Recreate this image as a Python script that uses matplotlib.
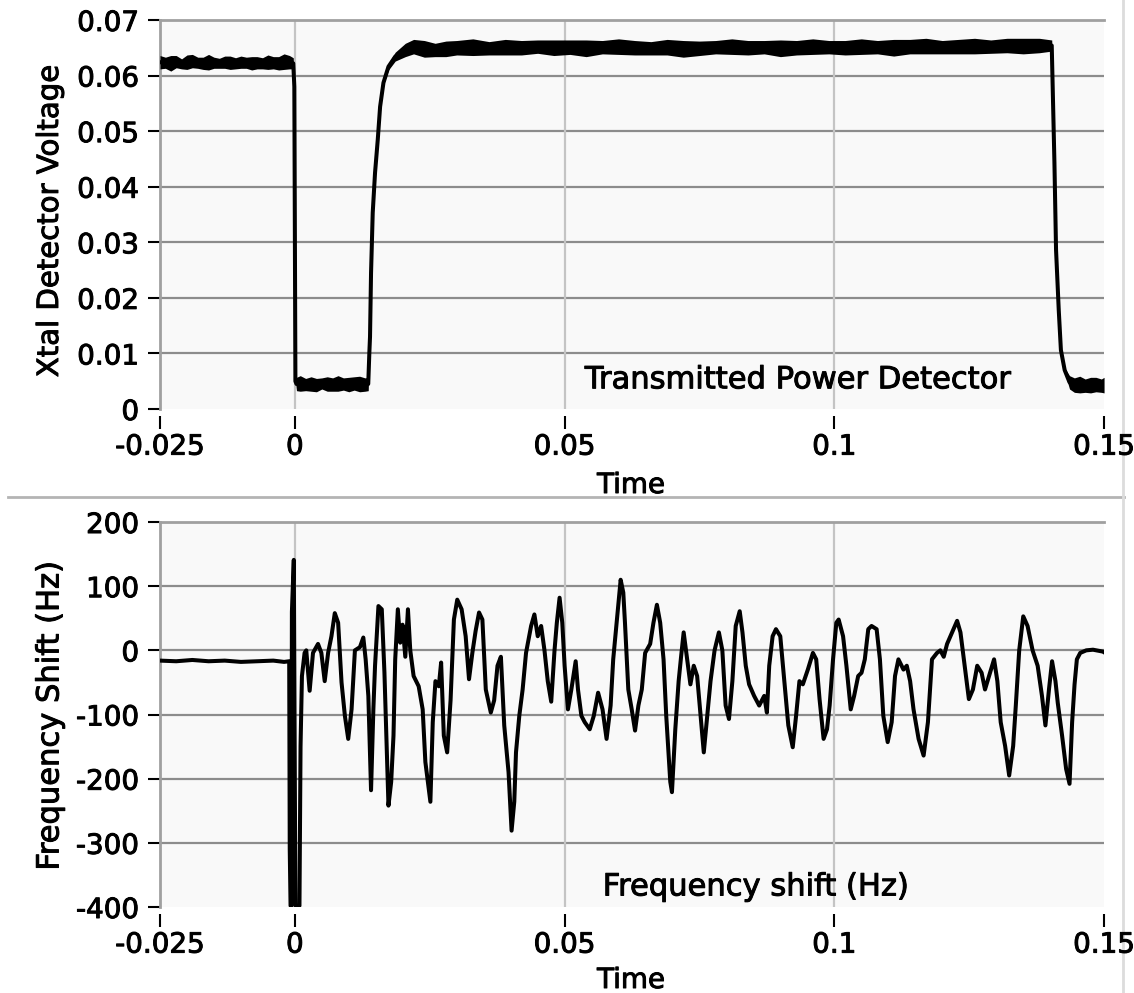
import numpy as np
import matplotlib.pyplot as plt
import matplotlib.patheffects as pe
from matplotlib.lines import Line2D

# top trace: crystal detector voltage, time in ms, centre of the trace and half width of the noise band
t_volt_ms = [-25, -24, -23, -22, -21, -20, -19, -18, -17, -16, -15, -14, -13, -12, -11, -10,
             -9, -8, -7, -6, -5, -4, -3, -2, -1, -0.3,
             -0.1, 0.1,
             0.3, 1, 2, 3, 4, 5, 6, 7, 8, 9, 10, 11, 12, 13, 13.6,
             13.8, 13.93, 14.12, 14.43, 14.86, 15.36, 15.8, 16.42, 17.35, 18.6, 20.47,
             22, 24, 26, 28, 30, 33, 36, 39, 42, 45, 48, 51, 54, 57, 60, 63, 66, 69, 72, 75,
             78, 81, 84, 87, 90, 93, 96, 99, 102, 105, 108, 111, 114, 117, 120, 123, 126, 129,
             132, 135, 138, 140.3,
             140.8, 141.1, 141.6, 142.0, 142.7, 143.6,
             144.5, 145.5, 146.5, 147.5, 148.5, 149.5, 150]
v_mid = [0.0624, 0.0623, 0.0622, 0.0625, 0.0621, 0.0624, 0.0626, 0.0623, 0.0622, 0.0624, 0.0623,
         0.0622, 0.0624, 0.0623, 0.0622, 0.0624, 0.0623, 0.0622, 0.0623, 0.0622, 0.0624, 0.0623,
         0.0622, 0.0625, 0.0624, 0.0622,
         0.0580, 0.0050,
         0.0045, 0.0046, 0.0044, 0.0045, 0.0043, 0.0046, 0.0045, 0.0044, 0.0046, 0.0045, 0.0044,
         0.0046, 0.0045, 0.0044, 0.0045,
         0.0100, 0.0130, 0.0245, 0.0353, 0.0425, 0.0484, 0.0544, 0.0587, 0.0616, 0.0634, 0.0646,
         0.0652, 0.0648, 0.0646, 0.0648, 0.0650, 0.0651, 0.0649, 0.0651, 0.0650, 0.0652, 0.0650,
         0.0651, 0.0649, 0.0651, 0.0652, 0.0650, 0.0649, 0.0651, 0.0648, 0.0649, 0.0651, 0.0652,
         0.0650, 0.0651, 0.0649, 0.0650, 0.0652, 0.0651, 0.0650, 0.0652, 0.0651, 0.0650, 0.0652,
         0.0653, 0.0651, 0.0652, 0.0653, 0.0652, 0.0654, 0.0653, 0.0654, 0.0654,
         0.0443, 0.0286, 0.0178, 0.0106, 0.0070, 0.0048,
         0.0043, 0.0044, 0.0042, 0.0043, 0.0044, 0.0042, 0.0043]
v_half = [0.0012, 0.0010, 0.0014, 0.0011, 0.0009, 0.0013, 0.0012, 0.0010, 0.0011, 0.0014, 0.0010,
          0.0009, 0.0011, 0.0012, 0.0010, 0.0011, 0.0010, 0.0012, 0.0011, 0.0010, 0.0013, 0.0011,
          0.0012, 0.0014, 0.0012, 0.0010,
          0.0, 0.0,
          0.0012, 0.0014, 0.0011, 0.0013, 0.0012, 0.0010, 0.0013, 0.0012, 0.0014, 0.0011, 0.0013,
          0.0012, 0.0014, 0.0012, 0.0012,
          0.0, 0.0, 0.0, 0.0, 0.0, 0.0, 0.0, 0.0004, 0.0006, 0.0008, 0.0012,
          0.0013, 0.0015, 0.0012, 0.0014, 0.0013, 0.0015, 0.0012, 0.0014, 0.0013, 0.0012, 0.0014,
          0.0013, 0.0015, 0.0012, 0.0014, 0.0013, 0.0012, 0.0014, 0.0015, 0.0013, 0.0012, 0.0014,
          0.0013, 0.0012, 0.0015, 0.0013, 0.0014, 0.0012, 0.0013, 0.0014, 0.0012, 0.0015, 0.0013,
          0.0014, 0.0012, 0.0013, 0.0014, 0.0012, 0.0013, 0.0014, 0.0013, 0.0010,
          0.0, 0.0, 0.0, 0.0, 0.0004, 0.0012,
          0.0013, 0.0015, 0.0012, 0.0014, 0.0013, 0.0012, 0.0014]

# bottom trace: frequency shift, time in ms
t_freq_ms = [-25, -22, -19, -16, -13, -10, -7, -4, -2, -1.05,
             -0.95, -0.80, -0.65, -0.55, -0.20, 0.10, 0.85, 1.05, 1.31,
             1.80, 2.11, 2.74, 3.36, 4.29, 4.91, 5.53, 6.16, 6.78, 7.40, 8.02, 8.65, 9.27, 9.89,
             10.51, 11.13, 12.06, 12.69, 13.12, 13.62, 14.12, 14.55, 14.86, 15.49, 16.11, 16.60,
             17.04, 17.35, 17.85, 18.28, 18.60, 19.09, 19.53, 19.96, 20.47, 20.96, 21.39, 22.01,
             22.95, 23.69, 24.19, 25.12, 25.56, 26.06, 26.68, 27.11, 27.61, 28.23, 28.86, 29.48,
             30.10, 30.91, 31.66, 32.28, 32.9, 33.5, 34.14, 34.76, 35.39, 36.32, 36.94, 37.56,
             38.19, 38.81, 39.61, 40.17, 40.67, 40.99, 41.60, 42.22, 42.85, 43.79, 44.40, 45.02,
             45.65, 46.27, 46.88, 47.52, 48.13, 48.56, 49.07, 49.57, 50.00, 50.62, 51.25, 52.05,
             52.48, 53.11, 53.73, 54.66, 55.41, 56.21, 57.03, 57.78, 58.53, 59.01, 59.64, 60.39,
             60.88, 61.19, 61.81, 62.44, 63.06, 63.68, 64.31, 64.93, 65.86, 66.47, 67.11, 67.72,
             68.34, 68.84, 69.59, 69.90, 70.52, 71.14, 71.59, 72.07, 72.71, 73.32, 73.94, 74.57,
             75.32, 75.80, 76.44, 77.05, 77.80, 78.60, 79.24, 79.85, 80.47, 81.10, 81.72, 82.46,
             82.97, 83.58, 84.20, 85.13, 86.07, 87.00, 87.50, 87.93, 88.56, 89.18, 89.98, 90.73,
             91.47, 92.29, 92.91, 93.53, 94.16, 95.09, 96.03, 96.64, 97.26, 98.01, 98.64, 99.13,
             99.76, 100.37, 100.80, 101.62, 102.24, 103.04, 103.67, 104.42, 105.04, 105.65, 106.29,
             106.90, 107.84, 108.45, 109.08, 109.89, 110.63, 111.25, 111.88, 112.82, 113.43, 114.05,
             114.68, 115.62, 116.55, 117.35, 118.10, 119.03, 119.65, 120.28, 120.90, 121.83, 122.76,
             123.38, 124.01, 124.94, 125.69, 126.49, 127.30, 127.93, 128.68, 129.61, 130.22, 130.84,
             131.66, 132.41, 133.15, 133.64, 134.27, 135.02, 135.82, 136.75, 137.69, 138.49, 139.13,
             139.80, 140.36, 140.99, 141.42, 142.22, 142.97, 143.60, 144.08, 144.53, 144.96, 145.58,
             146.70, 147.95, 149.81, 150]
f_hz = [-16, -17, -15, -17, -16, -18, -17, -16, -18, -17,
        -310, -398, -398, 60, 141, -398, -398, -150, -40,
        -4, 0, -63, -4, 10, -4, -48, -4, 22, 58, 43, -50, -102, -138,
        -92, 0, 5, 20, -14, -71, -218, -92, -24, 69, 64, -34,
        -154, -242, -205, -133, -14, 64, 12, 40, -10, 64, 0, -40,
        -56, -92, -174, -236, -112, -48, -56, -19, -133, -159, -78, 48,
        79, 64, 22, -45, -4, 30, 59, 48, -61, -97, -78, -24,
        -10, -117, -190, -281, -236, -159, -102, -61, -4, 38, 56, 22,
        38, 0, -48, -80, 0, 43, 82, 43, -24, -92, -61, -17,
        -61, -102, -112, -123, -102, -66, -92, -138, -86, -14, 43, 110,
        90, 43, -61, -92, -125, -86, -61, -4, 10, 43, 71, 43,
        -14, -102, -205, -221, -123, -48, -10, 28, -14, -53, -24, -40,
        -112, -159, -102, -48, 0, 28, 0, -86, -107, -48, 38, 61,
        28, -24, -53, -71, -86, -71, -97, -24, 22, 33, 22, -48,
        -117, -151, -102, -48, -53, -30, -4, -14, -76, -138, -123, -86,
        -14, 43, 48, 22, -24, -92, -71, -40, -35, -14, 33,
        38, 33, -14, -102, -143, -112, -40, -14, -30, -24, -48,
        -92, -138, -164, -112, -14, -4, 0, -10, 10, 28, 46,
        28, -14, -76, -61, -24, -35, -61, -40, -14, -48, -112,
        -149, -195, -149, -86, 0, 53, 38, 0, -24, -71, -117,
        -60, -17, -48, -82, -133, -185, -208, -112, -53, -14, -4,
        0, 1, -2, -3]

x_ticks = [-0.025, 0, 0.05, 0.1, 0.15]
x_labels = ['-0.025', '0', '0.05', '0.1', '0.15']
volt_ticks = [0, 0.01, 0.02, 0.03, 0.04, 0.05, 0.06, 0.07]
volt_labels = ['0', '0.01', '0.02', '0.03', '0.04', '0.05', '0.06', '0.07']
freq_ticks = [-400, -300, -200, -100, 0, 100, 200]
freq_labels = ['-400', '-300', '-200', '-100', '0', '100', '200']

plt.rcParams['font.family'] = ['DejaVu Sans']
FS = 20
# slight stroke so the text reads as heavy as the original screen font
HEAVY = [pe.withStroke(linewidth=0.7, foreground='black')]

fig = plt.figure(figsize=(11.34, 9.93), dpi=100)
ax1 = fig.add_axes([0.1411, 0.5881, 0.8325, 0.3918])
ax2 = fig.add_axes([0.1411, 0.0866, 0.8325, 0.3877])


def style(ax, yticks, ylabels, ylim):
    # spine position first: moving a spine resets the tick formatting
    ax.spines['bottom'].set_position(('outward', 5))
    ax.spines['bottom'].set_visible(False)
    ax.spines['right'].set_visible(False)
    ax.spines['left'].set_color('#a0a0a0')
    ax.spines['left'].set_linewidth(2)
    ax.spines['top'].set_color('#a0a0a0')
    ax.spines['top'].set_linewidth(2)
    ax.set_facecolor('#f9f9f9')
    ax.set_xlim(-0.025, 0.15)
    ax.set_ylim(*ylim)
    ax.set_xticks(x_ticks)
    ax.set_xticklabels(x_labels, fontsize=FS, path_effects=HEAVY)
    ax.set_yticks(yticks)
    ax.set_yticklabels(ylabels, fontsize=FS, path_effects=HEAVY)
    for y in yticks[1:-1]:
        ax.axhline(y, color='#8c8c8c', lw=1.6, zorder=1)
    for x in x_ticks[1:-1]:
        ax.axvline(x, color='#c4c4c4', lw=1.6, zorder=1)
    ax.tick_params(axis='y', direction='out', length=9, width=1.5, color='black', pad=6)
    ax.tick_params(axis='x', direction='out', length=9, width=1.5, color='black', pad=3)


style(ax1, volt_ticks, volt_labels, (0, 0.07))
style(ax2, freq_ticks, freq_labels, (-400, 200))

tv = np.array(t_volt_ms) / 1000
vm = np.array(v_mid)
vh = np.array(v_half)
ax1.fill_between(tv, vm - vh, vm + vh, color='black', lw=0, zorder=3)
ax1.plot(tv, vm, color='black', lw=2.9, zorder=4)

tf = np.array(t_freq_ms) / 1000
ax2.plot(tf, f_hz, color='black', lw=2.9, zorder=4)

ax1.text(0.450, 0.075, 'Transmitted Power Detector', transform=ax1.transAxes,
         fontsize=22, va='center', ha='left', zorder=5, path_effects=HEAVY)
ax2.text(0.469, 0.052, 'Frequency shift (Hz)', transform=ax2.transAxes,
         fontsize=22, va='center', ha='left', zorder=5, path_effects=HEAVY)

fig.text(50 / 1134, 1 - 221 / 993, 'Xtal Detector Voltage', rotation=90,
         fontsize=21, ha='center', va='center', path_effects=HEAVY)
fig.text(50 / 1134, 1 - 716 / 993, 'Frequency Shift (Hz)', rotation=90,
         fontsize=22, ha='center', va='center', path_effects=HEAVY)
fig.text(631 / 1134, 1 - 485 / 993, 'Time', fontsize=FS,
         ha='center', va='center', path_effects=HEAVY)
fig.text(631 / 1134, 1 - 980 / 993, 'Time', fontsize=FS,
         ha='center', va='center', path_effects=HEAVY)

# panel frame lines, kept under the axes so tick labels sit on top
fig.add_artist(Line2D([8 / 1134, 1124 / 1134], [1 - 497 / 993, 1 - 497 / 993],
                      color='#b4b4b4', lw=2, zorder=-1))
fig.add_artist(Line2D([1123 / 1134, 1123 / 1134], [0, 1], color='#dcdcdc', lw=2, zorder=-1))

fig.savefig('out.png', dpi=100)
